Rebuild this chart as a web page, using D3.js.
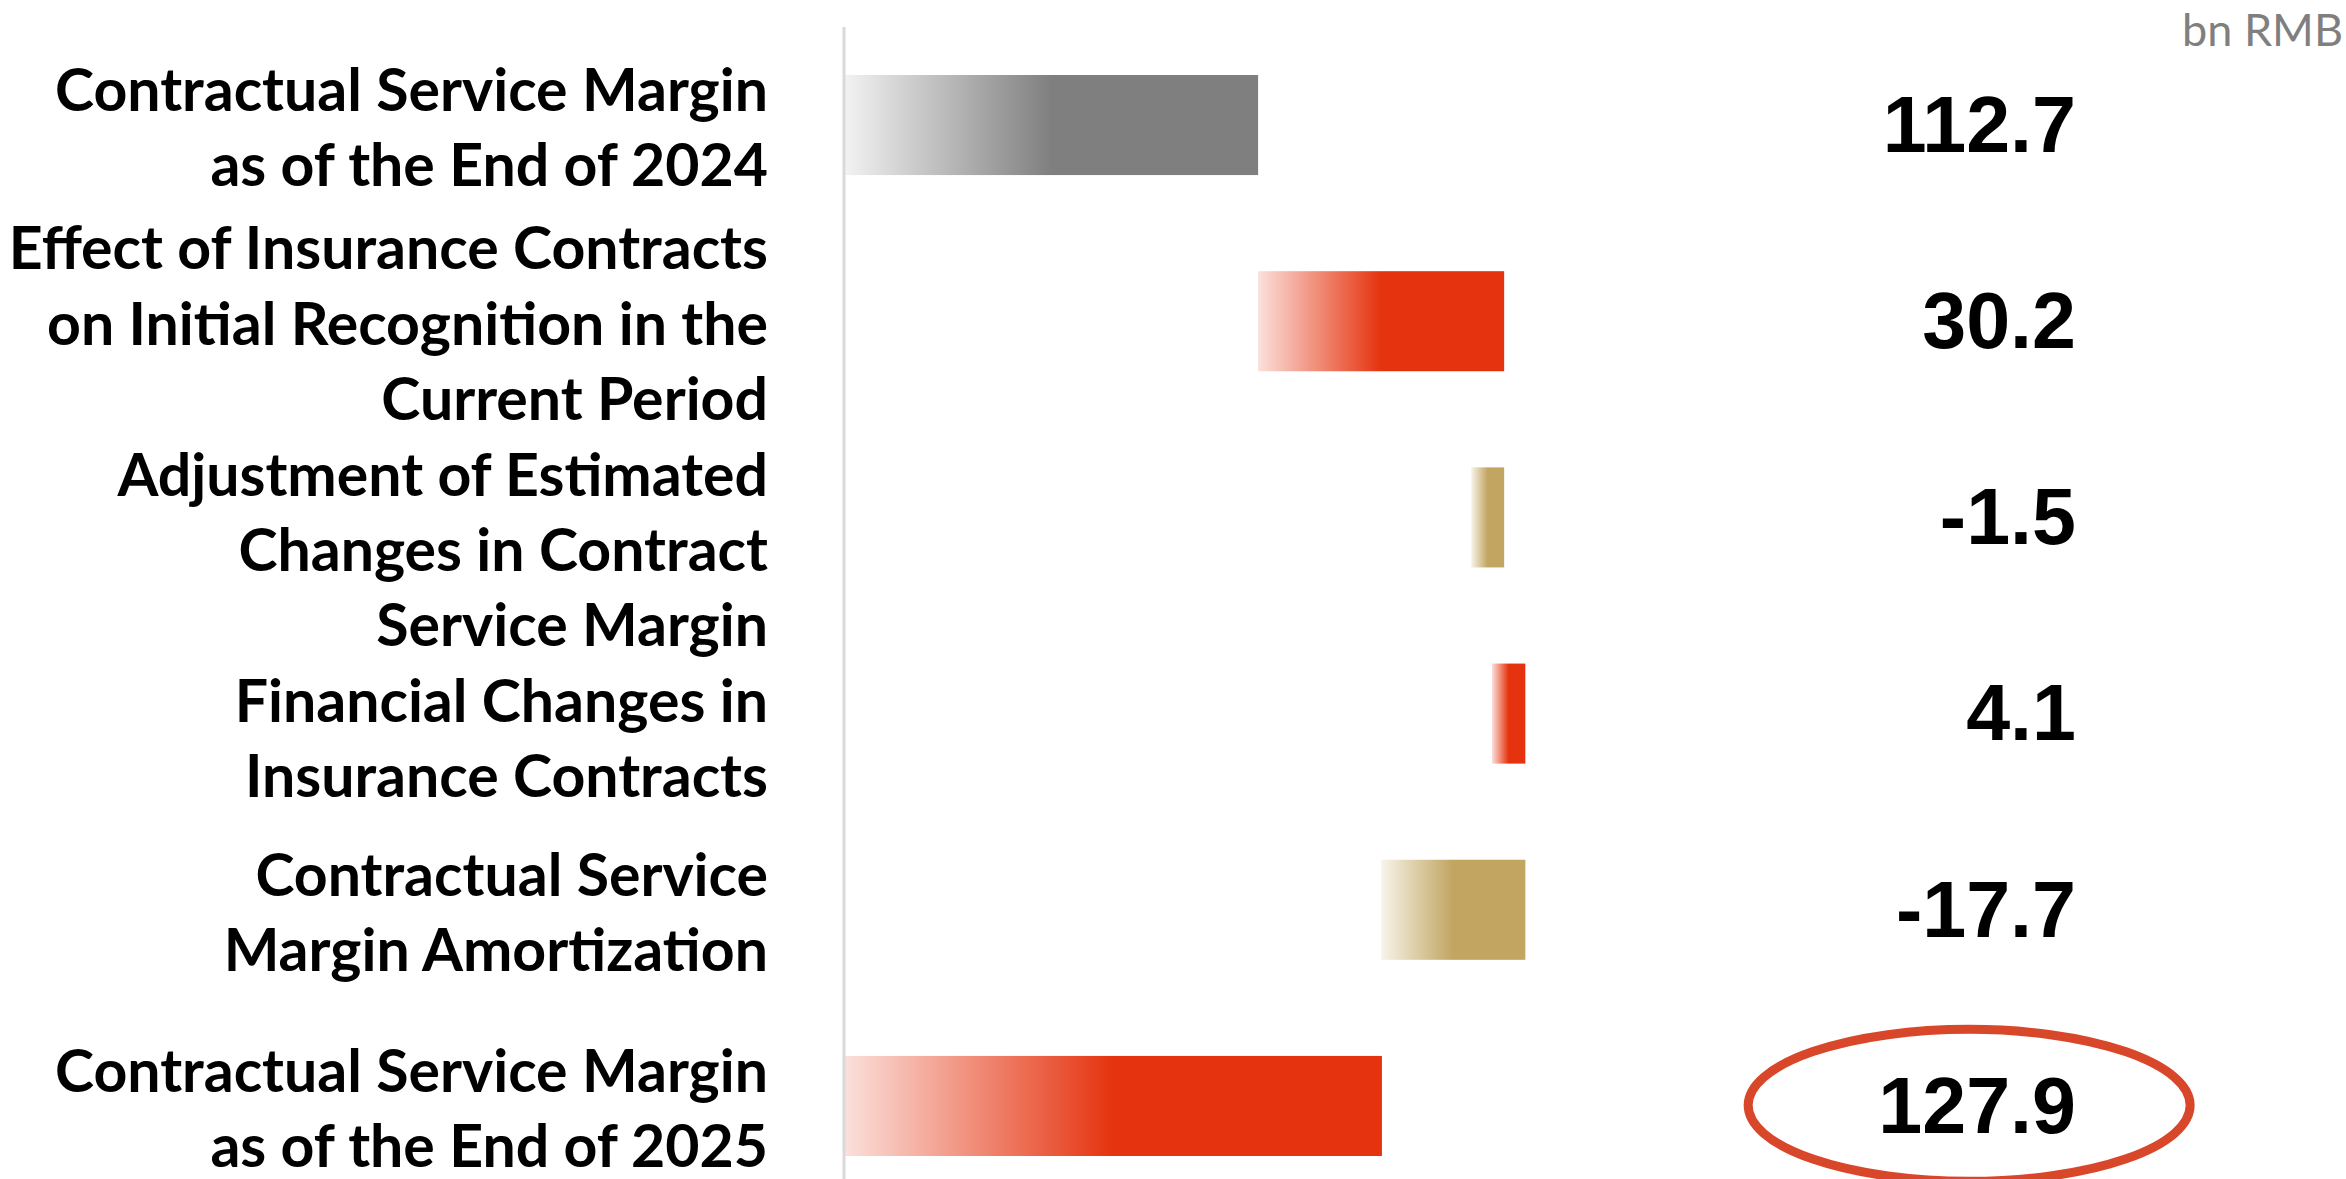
<!DOCTYPE html>
<html>
<head>
<meta charset="utf-8">
<script src="https://cdn.jsdelivr.net/npm/d3@7"></script>
<style>
	body { margin:0; background:#fff; }
	svg { display:block; }
	.label { font-family:Lato, 'Open Sans', sans-serif; font-weight:700; font-size:59px; fill:#000; }
	.value { font-family:'Liberation Sans', Arial, sans-serif; font-weight:700; font-size:79px; fill:#000; }
	.unit { font-family:Lato, 'Open Sans', sans-serif; font-size:45px; fill:#7f7f7f; }
</style>
</head>
<body>
<div id="chart"></div>
<script>
// csm movement, bn RMB

var labels = [
	['Contractual Service Margin', 'as of the End of 2024'],
	['Effect of Insurance Contracts', 'on Initial Recognition in the', 'Current Period'],
	['Adjustment of Estimated', 'Changes in Contract', 'Service Margin'],
	['Financial Changes in', 'Insurance Contracts'],
	['Contractual Service', 'Margin Amortization'],
	['Contractual Service Margin', 'as of the End of 2025']
]
var values = [112.7, 30.2, -1.5, 4.1, -17.7, 127.9]
var kinds = ['total', 'up', 'down', 'up', 'down', 'total']
var axisDomain = [62, 150]
var unitLabel = 'bn RMB'

var palette = {
	'total' : ['#f2f2f2', '#7f7f7f'],
	'up' : ['#fbe0db', '#e5330f'],
	'down' : ['#f8f4ea', '#c1a561'],
	'last' : ['#fbe0db', '#e5330f']
}

var fmt = d3.formatLocale({'decimal':'.', 'thousands':',', 'grouping':[3], 'currency':['', ''], 'minus':'-'}).format('.1f')

var init = function(domelement) {

	var width = 2346
	var height = 1179

	var svg = d3.select(domelement).append('svg')
		.attr('width', width)
		.attr('height', height)

	var x = d3.scaleLinear()
		.domain(axisDomain)
		.range([845, 1562])

	var y = d3.scaleBand()
		.domain(d3.range(values.length))
		.range([75, 1156])
		.paddingInner(0.49)
		.paddingOuter(0)

	/*running totals for the waterfall*/
	var run = 0
	var rows = values.map(function(v, i) {
		var kind = kinds[i]
		var start, end
		if (kind == 'total') {
			start = axisDomain[0]
			end = v
			run = v
		} else {
			start = run
			end = run + v
			run = end
		}
		return {'i':i, 'value':v, 'kind':(i == values.length - 1 ? 'last' : kind), 'start':start, 'end':end, 'lines':labels[i]}
	})

	var defs = svg.append('defs')
	var grads = defs.selectAll('linearGradient')
		.data(Object.keys(palette))
		.enter().append('linearGradient')
		.attr('id', function(d) { return 'grad-' + d })
		.attr('x1', 0).attr('x2', 1).attr('y1', 0).attr('y2', 0)
	grads.append('stop').attr('offset', 0).attr('stop-color', function(d) { return palette[d][0] })
	grads.append('stop').attr('offset', 0.5).attr('stop-color', function(d) { return palette[d][1] })
	grads.append('stop').attr('offset', 1).attr('stop-color', function(d) { return palette[d][1] })

	var minW = 33

	svg.append('g').attr('class', 'marks')
		.selectAll('rect')
		.data(rows)
		.enter().append('rect')
		.attr('x', function(d) {
			var a = x(d.start), b = x(d.end)
			var w = Math.max(Math.abs(b - a), minW)
			return b < a ? a - w : a
		})
		.attr('width', function(d) {
			return Math.max(Math.abs(x(d.end) - x(d.start)), minW)
		})
		.attr('y', function(d) { return y(d.i) })
		.attr('height', y.bandwidth())
		.attr('fill', function(d) { return 'url(#grad-' + d.kind + ')' })

	// vertical axis line
	svg.append('line')
		.attr('x1', x.range()[0] - 1).attr('x2', x.range()[0] - 1)
		.attr('y1', 27).attr('y2', height)
		.attr('stroke', '#d9d9d9')
		.attr('stroke-width', 3)

	// category labels, pushed down when they would collide
	var lh = 75.4
	var prevLast = -Infinity
	rows.forEach(function(d) {
		var n = d.lines.length
		var yc = y(d.i) + y.bandwidth() / 2
		var first = Math.max(yc - (n - 1) * lh / 2, prevLast + lh)
		d.lineY = d.lines.map(function(l, j) { return first + j * lh })
		prevLast = d.lineY[n - 1]
	})

	var lab = svg.append('g').attr('class', 'labels')
		.selectAll('text')
		.data(rows)
		.enter().append('text')
		.attr('class', 'label')
		.attr('text-anchor', 'end')

	lab.selectAll('tspan')
		.data(function(d) { return d.lines.map(function(l, j) { return {'t':l, 'y':d.lineY[j]} }) })
		.enter().append('tspan')
		.attr('x', 768)
		.attr('y', function(d) { return d.y + 3 })
		.attr('dy', '0.35em')
		.text(function(d) { return d.t })

	var vals = svg.append('g').attr('class', 'values')
		.selectAll('text')
		.data(rows)
		.enter().append('text')
		.attr('class', 'value')
		.attr('text-anchor', 'end')
		.attr('x', 2076)
		.attr('y', function(d) { return y(d.i) + y.bandwidth() / 2 })
		.attr('dy', '0.34em')
		.text(function(d) { return fmt(d.value) })

	// highlight ring on the closing balance
	var lastNode = vals.filter(function(d) { return d.kind == 'last' }).node()
	var bb = lastNode.getBBox()
	svg.append('ellipse')
		.attr('cx', bb.x + bb.width / 2 - 8)
		.attr('cy', bb.y + bb.height / 2)
		.attr('rx', 221)
		.attr('ry', 76)
		.attr('fill', 'none')
		.attr('stroke', '#d9472a')
		.attr('stroke-width', 9)

	svg.append('text')
		.attr('class', 'unit')
		.attr('text-anchor', 'end')
		.attr('x', 2343)
		.attr('y', 46)
		.text(unitLabel)
}

init('#chart')
</script>
</body>
</html>
